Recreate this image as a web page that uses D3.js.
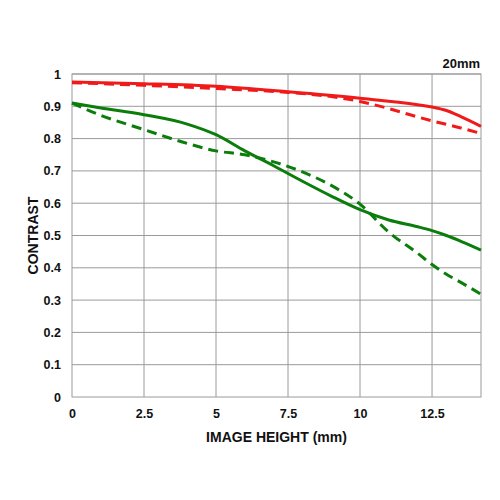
<!DOCTYPE html>
<html>
<head>
<meta charset="utf-8">
<script src="https://cdn.jsdelivr.net/npm/d3@7"></script>
<style>
  html, body { margin: 0; padding: 0; background: #fff; }
  svg text { font-family: "Liberation Sans", Arial, sans-serif; font-weight: bold; fill: #111; }
</style>
</head>
<body>
<svg id="chart" width="500" height="500"></svg>
<script>
const xTicks = [0, 2.5, 5, 7.5, 10, 12.5];
const yTicks = [0, 0.1, 0.2, 0.3, 0.4, 0.5, 0.6, 0.7, 0.8, 0.9, 1];
const xMax = 14.2;

const redSolidX  = [0, 2.5, 5, 7.5, 10, 12, 12.5, 13, 13.5, 14.2];
const redSolidY  = [0.975, 0.970, 0.962, 0.945, 0.925, 0.905, 0.898, 0.887, 0.868, 0.838];
const redDashX   = [0, 2.5, 5, 7.5, 9, 10, 11, 12, 12.5, 13.5, 14.2];
const redDashY   = [0.973, 0.965, 0.955, 0.943, 0.930, 0.915, 0.893, 0.867, 0.855, 0.833, 0.816];
const greenSolidX = [0, 1, 2.5, 4, 5, 6, 7, 8, 9, 10, 11, 12, 12.5, 13, 13.5, 14.2];
const greenSolidY = [0.910, 0.895, 0.874, 0.845, 0.812, 0.762, 0.716, 0.668, 0.622, 0.580, 0.548, 0.527, 0.515, 0.500, 0.482, 0.455];
const greenDashX  = [0, 1, 2.5, 4, 5, 6, 7, 8, 9, 10, 11, 12, 12.5, 13, 13.5, 14.2];
const greenDashY  = [0.910, 0.872, 0.828, 0.785, 0.762, 0.750, 0.728, 0.697, 0.655, 0.597, 0.510, 0.445, 0.410, 0.380, 0.355, 0.318];

const focalLabel = "20mm";
const xTitle = "IMAGE HEIGHT (mm)";
const yTitle = "CONTRAST";

const svg = d3.select("#chart");
const mLeft = 72, mRight = 481, mTop = 74, mBottom = 397;

const x = d3.scaleLinear().domain([0, xMax]).range([mLeft, mRight]);
const y = d3.scaleLinear().domain([0, 1]).range([mBottom, mTop]);

const grid = svg.append("g");
grid.selectAll("line.v").data(xTicks.slice(1)).enter().append("line")
  .attr("x1", d => x(d)).attr("x2", d => x(d)).attr("y1", mTop).attr("y2", mBottom)
  .attr("stroke", "#9a9a9a").attr("stroke-width", 1);
grid.selectAll("line.h").data(yTicks.slice(1)).enter().append("line")
  .attr("x1", mLeft).attr("x2", mRight).attr("y1", d => y(d)).attr("y2", d => y(d))
  .attr("stroke", "#9a9a9a").attr("stroke-width", 1);
svg.append("rect").attr("x", mLeft).attr("y", mTop).attr("width", mRight - mLeft).attr("height", mBottom - mTop)
  .attr("fill", "none").attr("stroke", "#9a9a9a").attr("stroke-width", 1);

const xAxis = d3.axisBottom(x).tickValues(xTicks).tickSize(0).tickPadding(12).tickFormat(d => String(d));
const gx = svg.append("g").attr("transform", `translate(0,${mBottom})`).call(xAxis);
gx.select(".domain").remove();
gx.selectAll("text").attr("font-size", 12.5).style("font-family", "'Liberation Sans', Arial, sans-serif").style("font-weight", "bold").attr("fill", "#111");

const yAxis = d3.axisLeft(y).tickValues(yTicks).tickSize(0).tickPadding(11).tickFormat(d => String(d));
const gy = svg.append("g").attr("transform", `translate(${mLeft},0)`).call(yAxis);
gy.select(".domain").remove();
gy.selectAll("text").attr("font-size", 12.5).style("font-family", "'Liberation Sans', Arial, sans-serif").style("font-weight", "bold").attr("fill", "#111");

const line = d3.line().x(d => x(d[0])).y(d => y(d[1])).curve(d3.curveMonotoneX);
function series(xs, ys, color, dashed) {
  svg.append("path").datum(xs.map((v, i) => [v, ys[i]]))
    .attr("d", line).attr("fill", "none").attr("stroke", color).attr("stroke-width", 3)
    .attr("stroke-dasharray", dashed ? "10,6" : null);
}
series(greenDashX, greenDashY, "#0b7d0b", true);
series(greenSolidX, greenSolidY, "#0b7d0b", false);
series(redDashX, redDashY, "#f01a1a", true);
series(redSolidX, redSolidY, "#f01a1a", false);

svg.append("text").attr("x", 480).attr("y", 68).attr("text-anchor", "end").attr("font-size", 13).text(focalLabel);
svg.append("text").attr("x", (mLeft + mRight) / 2).attr("y", 442).attr("text-anchor", "middle").attr("font-size", 14).text(xTitle);
svg.append("text").attr("transform", `translate(38,${(mTop + mBottom) / 2}) rotate(-90)`).attr("text-anchor", "middle").attr("font-size", 14).text(yTitle);
</script>
</body>
</html>
